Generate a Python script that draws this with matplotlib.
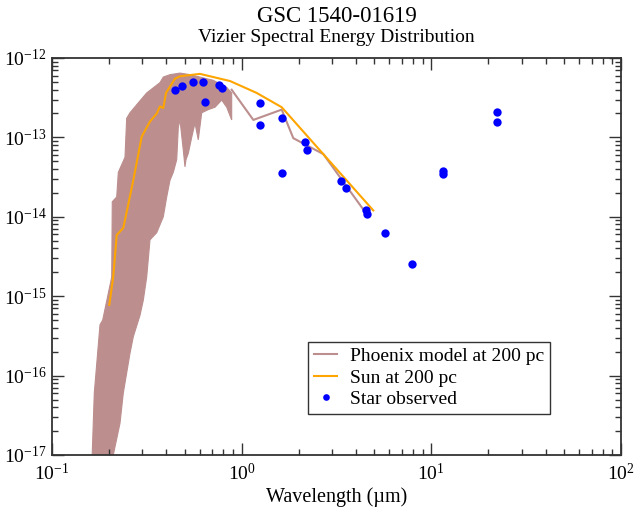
import numpy as np
import matplotlib
matplotlib.use("Agg")
import matplotlib.pyplot as plt

plt.rcParams['font.family'] = ['Liberation Serif', 'DejaVu Serif']
plt.rcParams['mathtext.fontset'] = 'custom'
plt.rcParams['mathtext.rm'] = 'Liberation Serif'
plt.rcParams['mathtext.it'] = 'Liberation Serif:italic'

# observed photometry (wavelength in micron, flux)
obs_wl = [0.444, 0.483, 0.552, 0.624, 0.641, 0.759, 0.785, 1.25, 1.25, 1.64,
          1.64, 2.16, 2.21, 3.35, 3.55, 4.51, 4.60, 5.72, 7.88, 11.56,
          11.56, 22.1, 22.1]
obs_flux = [3.99e-13, 4.40e-13, 4.94e-13, 4.94e-13, 2.77e-13, 4.53e-13, 4.23e-13,
            2.71e-13, 1.42e-13, 1.74e-13, 3.53e-14, 8.75e-14, 6.94e-14, 2.80e-14,
            2.33e-14, 1.22e-14, 1.07e-14, 6.2e-15, 2.52e-15, 3.77e-14, 3.43e-14,
            2.11e-13, 1.55e-13]

# Sun scaled to 200 pc
sun_wl = [0.2005, 0.2104, 0.2194, 0.2376, 0.2426, 0.2683, 0.2971, 0.3286, 0.3565,
          0.3710, 0.3862, 0.3992, 0.4189, 0.4452, 0.4730, 0.5559, 0.6031, 0.7087,
          0.8681, 1.200, 1.626, 4.943]
sun_logf = [-15.11, -14.75, -14.23, -14.14, -14.04, -13.54, -12.99, -12.80, -12.70,
            -12.61, -12.63, -12.44, -12.36, -12.26, -12.23, -12.21, -12.20, -12.24,
            -12.29, -12.44, -12.62, -13.92]

# Phoenix model: envelope of the high resolution part
phx_up_wl = [0.1619, 0.1671, 0.1791, 0.1851, 0.2064, 0.2079, 0.2194, 0.2237, 0.2426,
             0.2476, 0.2577, 0.2885, 0.3157, 0.3710, 0.3862, 0.4189, 0.4730, 0.5341,
             0.7063, 0.8341, 0.8858]
phx_up_logf = [-17.19, -16.22, -15.36, -15.30, -14.76, -13.81, -13.75, -13.44, -13.25,
               -12.76, -12.69, -12.55, -12.44, -12.31, -12.24, -12.21, -12.19, -12.21,
               -12.28, -12.37, -12.44]
phx_lo_wl = [0.2034, 0.2104, 0.2283, 0.2376, 0.2577, 0.2683, 0.2911, 0.3030, 0.3157,
             0.3286, 0.3565, 0.3862, 0.4025, 0.4189, 0.4360, 0.4545, 0.4634, 0.4730,
             0.4923, 0.5025, 0.5087, 0.5233, 0.5451, 0.5674, 0.5905, 0.6157, 0.6668,
             0.7237, 0.7847, 0.8341, 0.8858]
phx_lo_logf = [-17.19, -17.00, -16.60, -16.22, -15.72, -15.51, -15.24, -15.05, -14.76,
               -14.29, -14.20, -14.00, -13.75, -13.54, -13.44, -13.28, -12.87, -12.78,
               -13.16, -13.37, -13.28, -13.20, -13.00, -12.82, -13.03, -12.69, -12.65,
               -12.62, -12.53, -12.62, -12.78]
# Phoenix model: low resolution tail
phx_wl = [0.8858, 1.152, 1.626, 1.872, 2.246, 2.694, 4.416, 4.635]
phx_logf = [-12.40, -12.78, -12.65, -13.01, -13.11, -13.21, -13.92, -13.94]

x_major = [0.1, 1, 10, 100]
y_major = [1e-17, 1e-16, 1e-15, 1e-14, 1e-13, 1e-12]

model_col = '#bc8e8e'

fig = plt.figure(figsize=(6.35, 5.07), dpi=100)
ax = fig.add_axes([52 / 635, 1 - 455 / 507, 569 / 635, 397 / 507])

band_x = np.concatenate([phx_up_wl, phx_lo_wl[::-1]])
band_y = 10 ** np.concatenate([phx_up_logf, phx_lo_logf[::-1]])
ax.fill(band_x, band_y, color=model_col, lw=0.8, ec=model_col)
ax.plot(phx_wl, 10 ** np.array(phx_logf), color=model_col, lw=1.5,
        label='Phoenix model at 200 pc')
ax.plot(sun_wl, 10 ** np.array(sun_logf), color='orange', lw=1.5, label='Sun at 200 pc')
ax.plot(obs_wl, obs_flux, 'o', color='blue', ms=6, mec='none', label='Star observed')

ax.set_xscale('log')
ax.set_yscale('log')
ax.set_xticks(x_major)
ax.set_yticks(y_major)
ax.set_xlim(0.1, 100)
ax.set_ylim(1e-17, 1e-12)
ax.set_xlabel('Wavelength (µm)', fontsize=14.5, labelpad=2)
ax.tick_params(which='both', direction='in', top=True, right=True, color='#333333')
ax.tick_params(which='major', length=8.5, width=1, labelsize=14)
ax.tick_params(axis='x', which='major', pad=6)
ax.tick_params(axis='y', which='major', pad=4)
ax.tick_params(which='minor', length=4.5, width=1)
for s in ax.spines.values():
    s.set_color('#333333')
    s.set_linewidth(1.3)

leg = ax.legend(loc='lower left', bbox_to_anchor=(0.45, 0.103), borderaxespad=0,
                fontsize=14, frameon=True, fancybox=False, framealpha=1,
                edgecolor='#333333', handlelength=1.2, handletextpad=0.65,
                labelspacing=0.2, borderpad=0.3, numpoints=1, markerscale=0.8)
leg.get_frame().set_linewidth(1)

fig.text(336.5 / 635, 1 - 22 / 507, 'GSC 1540-01619', ha='center', va='baseline', fontsize=16.5)
fig.text(336.5 / 635, 1 - 41.5 / 507, 'Vizier Spectral Energy Distribution',
         ha='center', va='baseline', fontsize=14)
# y label sits mostly outside the canvas, as in the original export
fig.text(3 / 635, 0.5, 'Flux (erg/s/cm$^2$/µm)', rotation=90, ha='right', va='center',
         fontsize=14.5)

fig.savefig('out.png', dpi=100)
